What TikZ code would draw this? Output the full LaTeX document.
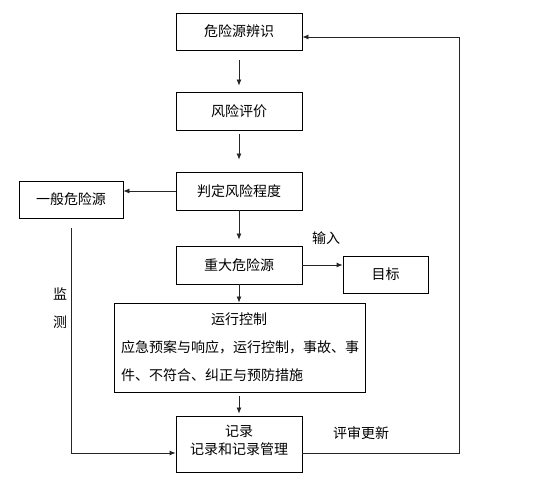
\documentclass[tikz,border=0pt]{standalone}
\usepackage{fontspec}
\setmainfont{Noto Sans CJK SC}
\usetikzlibrary{arrows.meta}
\begin{document}
\begin{tikzpicture}[x=1pt,y=-1pt,
  box/.style={draw=black,line width=0.8pt,rectangle,inner sep=0pt,font=\fontsize{14}{17}\selectfont},
  lbl/.style={inner sep=0pt,font=\fontsize{14}{17}\selectfont},
  arr/.style={draw=black!85,line width=0.8pt,-{Latex[length=6pt,width=5pt]}},
  ln/.style={draw=black!85,line width=0.8pt}]
\useasboundingbox (0,0) rectangle (539,481);
\fill[white] (0,0) rectangle (539,481);
\node[box,minimum width=126pt,minimum height=37pt] (b1) at (239,31.5) {危险源辨识};
\node[box,minimum width=126pt,minimum height=38pt] (b2) at (239,111) {风险评价};
\node[box,minimum width=126pt,minimum height=38pt] (b3) at (239,191) {判定风险程度};
\node[box,minimum width=104pt,minimum height=37pt] (gen) at (71,199.5) {一般危险源};
\node[box,minimum width=126pt,minimum height=38pt] (big) at (239,265) {重大危险源};
\node[box,minimum width=85pt,minimum height=37pt] (goal) at (385.5,274.5) {目标};
\node[box,minimum width=251pt,minimum height=89pt] (ctrl) at (239.5,347.5) {};
\node[lbl] (ct) at (239,319) {运行控制};
\node[lbl,anchor=west] (c1) at (121,347) {应急预案与响应，运行控制，事故、事};
\node[lbl,anchor=west] (c2) at (121,375) {件、不符合、纠正与预防措施};
\node[box,minimum width=126pt,minimum height=56pt,align=center] (rec) at (239,444) {};
\node[lbl] (r1) at (239,431) {记录};
\node[lbl] (r2) at (239,449) {记录和记录管理};
\node[lbl] (in) at (326,238) {输入};
\node[lbl] (ps) at (361,433) {评审更新};
\node[lbl] (m1) at (60,294) {监};
\node[lbl] (m2) at (60,322) {测};
\coordinate (lj) at (71,453);
\coordinate (rj) at (459,453);
\coordinate (rt) at (459,37);
\draw[arr,shorten <=10pt,shorten >=6pt] (b1.south) -- (b2.north);
\draw[arr,shorten <=4pt,shorten >=12pt] (b2.south) -- (b3.north);
\draw[arr,shorten >=6pt] (b3.south) -- (big.north);
\draw[arr] (big.south) -- (ctrl.north -| big.south);
\draw[arr,shorten <=4pt,shorten >=2pt] (ctrl.south -| rec.north) -- (rec.north);
\draw[arr] (b3.west) -- (b3.west -| gen.east);
\draw[arr] (big.east) -- (big.east -| goal.west);
\draw[arr,shorten <=10pt] (gen.south) -- (lj) -- (lj -| rec.west);
\draw[arr] (rj -| rec.east) -- (rj) -- (rt) -- (rt -| b1.east);
\end{tikzpicture}
\end{document}
